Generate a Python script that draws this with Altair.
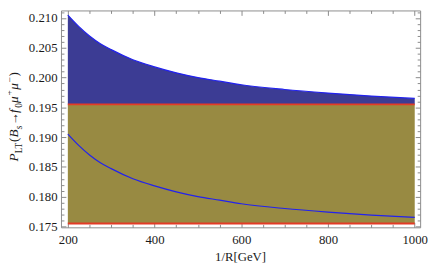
import altair as alt
import pandas as pd

# ---- data ----
x_vals = [200, 225, 250, 275, 300, 350, 400, 450, 500, 550, 600, 700, 800, 900, 1000]
lower_curve = [0.1905, 0.1886, 0.1870, 0.1857, 0.1847, 0.1830, 0.1818, 0.1808, 0.1800,
               0.1794, 0.1788, 0.1780, 0.1774, 0.1769, 0.1765]
upper_curve = [0.2105, 0.2086, 0.2070, 0.2057, 0.2047, 0.2030, 0.2018, 0.2008, 0.2000,
               0.1994, 0.1988, 0.1980, 0.1974, 0.1969, 0.1965]
band_low = 0.1755
band_high = 0.1955
x_range = [200, 1000]
x_major = [200, 400, 600, 800, 1000]
x_minor = [250, 300, 350, 450, 500, 550, 650, 700, 750, 850, 900, 950]
y_major = [0.175, 0.180, 0.185, 0.190, 0.195, 0.200, 0.205, 0.210]
y_minor = [round(0.175 + 0.001 * i, 3) for i in range(37) if i % 5 != 0]

x_title = "1/R[GeV]"
# y title pieces: (text, italic, role) role: main/sub/sup
y_title_parts = [("P", True, "main"), ("LT", False, "sub"), ("(", False, "main"),
                 ("B", True, "main"), ("s", True, "sub"), ("\u2192", False, "main"),
                 ("f", True, "main"), ("0", False, "sub"), ("\u03bc", True, "main"),
                 ("+", False, "sup"), ("\u03bc", True, "main"), ("\u2212", False, "sup"),
                 (")", False, "main")]

W, H = 366, 221
TOP = 8  # screen y of plot top
FONT = "Liberation Serif"
TICK = "#8a8a8a"
FRAME = "#8c8c8c"

curve_df = pd.DataFrame({"x": x_vals, "lower": lower_curve, "upper": upper_curve,
                         "base": [band_high] * len(x_vals)})
band_df = pd.DataFrame({"x0": [x_range[0]], "x1": [x_range[1]], "y0": [band_low], "y1": [band_high]})
rule_df = pd.DataFrame({"x0": [x_range[0]] * 2, "x1": [x_range[1]] * 2, "y": [band_low, band_high]})

xs = alt.Scale(domain=[184.2, 1012.5], nice=False, zero=False)
ys = alt.Scale(domain=[0.17484, 0.21128], nice=False, zero=False)


def ax(orient, values, size, labels=False, **kw):
    return alt.Axis(orient=orient, values=values, tickSize=size, offset=-size, labels=labels,
                    domain=False, grid=False, tickColor=TICK, tickWidth=1, title=None, **kw)


def frame_ax(orient):
    return alt.Axis(orient=orient, ticks=False, labels=False, grid=False, domain=True,
                    domainColor=FRAME, domainWidth=1, title=None)


band = alt.Chart(band_df).mark_rect(color="#988a42").encode(
    x=alt.X("x0:Q", scale=xs, axis=ax("bottom", x_major, 5, labels=True, labelPadding=6,
                                      labelFlush=False, format="d")),
    x2="x1:Q",
    y=alt.Y("y0:Q", scale=ys, axis=ax("left", y_major, 5, labels=True, format=".3f",
                                      labelPadding=4)),
    y2="y1:Q",
)

area = alt.Chart(curve_df).mark_area(color="#3c3c94", interpolate="monotone").encode(
    x=alt.X("x:Q", scale=xs, axis=ax("top", x_major, 5)),
    y=alt.Y("upper:Q", scale=ys, axis=ax("right", y_major, 5)),
    y2="base:Q",
)

rules = alt.Chart(rule_df).mark_rule(color="#e33b26", strokeWidth=2).encode(
    x=alt.X("x0:Q", scale=xs, axis=frame_ax("bottom")),
    x2="x1:Q",
    y=alt.Y("y:Q", scale=ys, axis=frame_ax("left")),
)

rules_frame = alt.Chart(rule_df).mark_rule(opacity=0).encode(
    x=alt.X("x0:Q", scale=xs, axis=frame_ax("top")),
    x2="x1:Q",
    y=alt.Y("y:Q", scale=ys, axis=frame_ax("right")),
)

line_lo = alt.Chart(curve_df).mark_line(color="#2222ee", strokeWidth=1.2, interpolate="monotone").encode(
    x=alt.X("x:Q", scale=xs, axis=ax("bottom", x_minor, 3)),
    y=alt.Y("lower:Q", scale=ys, axis=ax("left", y_minor, 3)),
)

line_hi = alt.Chart(curve_df).mark_line(color="#2222ee", strokeWidth=1.2, interpolate="monotone").encode(
    x=alt.X("x:Q", scale=xs, axis=ax("top", x_minor, 3)),
    y=alt.Y("upper:Q", scale=ys, axis=ax("right", y_minor, 3)),
)

# x axis title
xt_df = pd.DataFrame({"t": [x_title]})
x_tit = alt.Chart(xt_df).mark_text(font=FONT, fontSize=13, color="#1a1a1a", baseline="middle").encode(
    text="t:N", x=alt.value(245 - 62), y=alt.value(259 - TOP))

# y title built from pieces, rotated
widths = {"P": 0.62, "LT": 1.22, "(": 0.34, "B": 0.62, "s": 0.40, "\u2192": 0.95, "f": 0.40,
          "0": 0.5, "\u03bc": 0.56, "+": 0.62, "\u2212": 0.62, ")": 0.34}
sizes = {"main": 13.5, "sub": 9.5, "sup": 9.5}
shift = {"main": 0, "sub": 3.5, "sup": -5}
rows = []
ypos = 162 - TOP
for txt, it, role in y_title_parts:
    rows.append({"t": txt, "italic": it, "px": -43.5 + shift[role], "py": ypos, "fs": sizes[role]})
    ypos -= widths[txt] * sizes[role]
yt_df = pd.DataFrame(rows)


def ytext(italic):
    return alt.Chart(yt_df).transform_filter(
        alt.datum.italic == italic
    ).mark_text(font=FONT, fontStyle="italic" if italic else "normal", angle=270, align="left",
                baseline="alphabetic", color="#1a1a1a").encode(
        text="t:N",
        x=alt.X("px:Q", scale=None, axis=None),
        y=alt.Y("py:Q", scale=None, axis=None),
        size=alt.Size("fs:Q", scale=None, legend=None),
    )


chart = alt.layer(band, area, rules, line_lo, line_hi, rules_frame, x_tit,
                  ytext(True), ytext(False)).resolve_axis(
    x="independent", y="independent"
).properties(
    width=W, height=H,
    autosize=alt.AutoSizeParams(type="none"),
    padding={"left": 54, "top": 0, "right": 8, "bottom": 42},
).configure_view(strokeWidth=0).configure_axis(
    labelFont=FONT, labelFontSize=13, labelColor="#1a1a1a"
)

chart.save("out.html", embed_options={"renderer": "svg", "actions": False})
